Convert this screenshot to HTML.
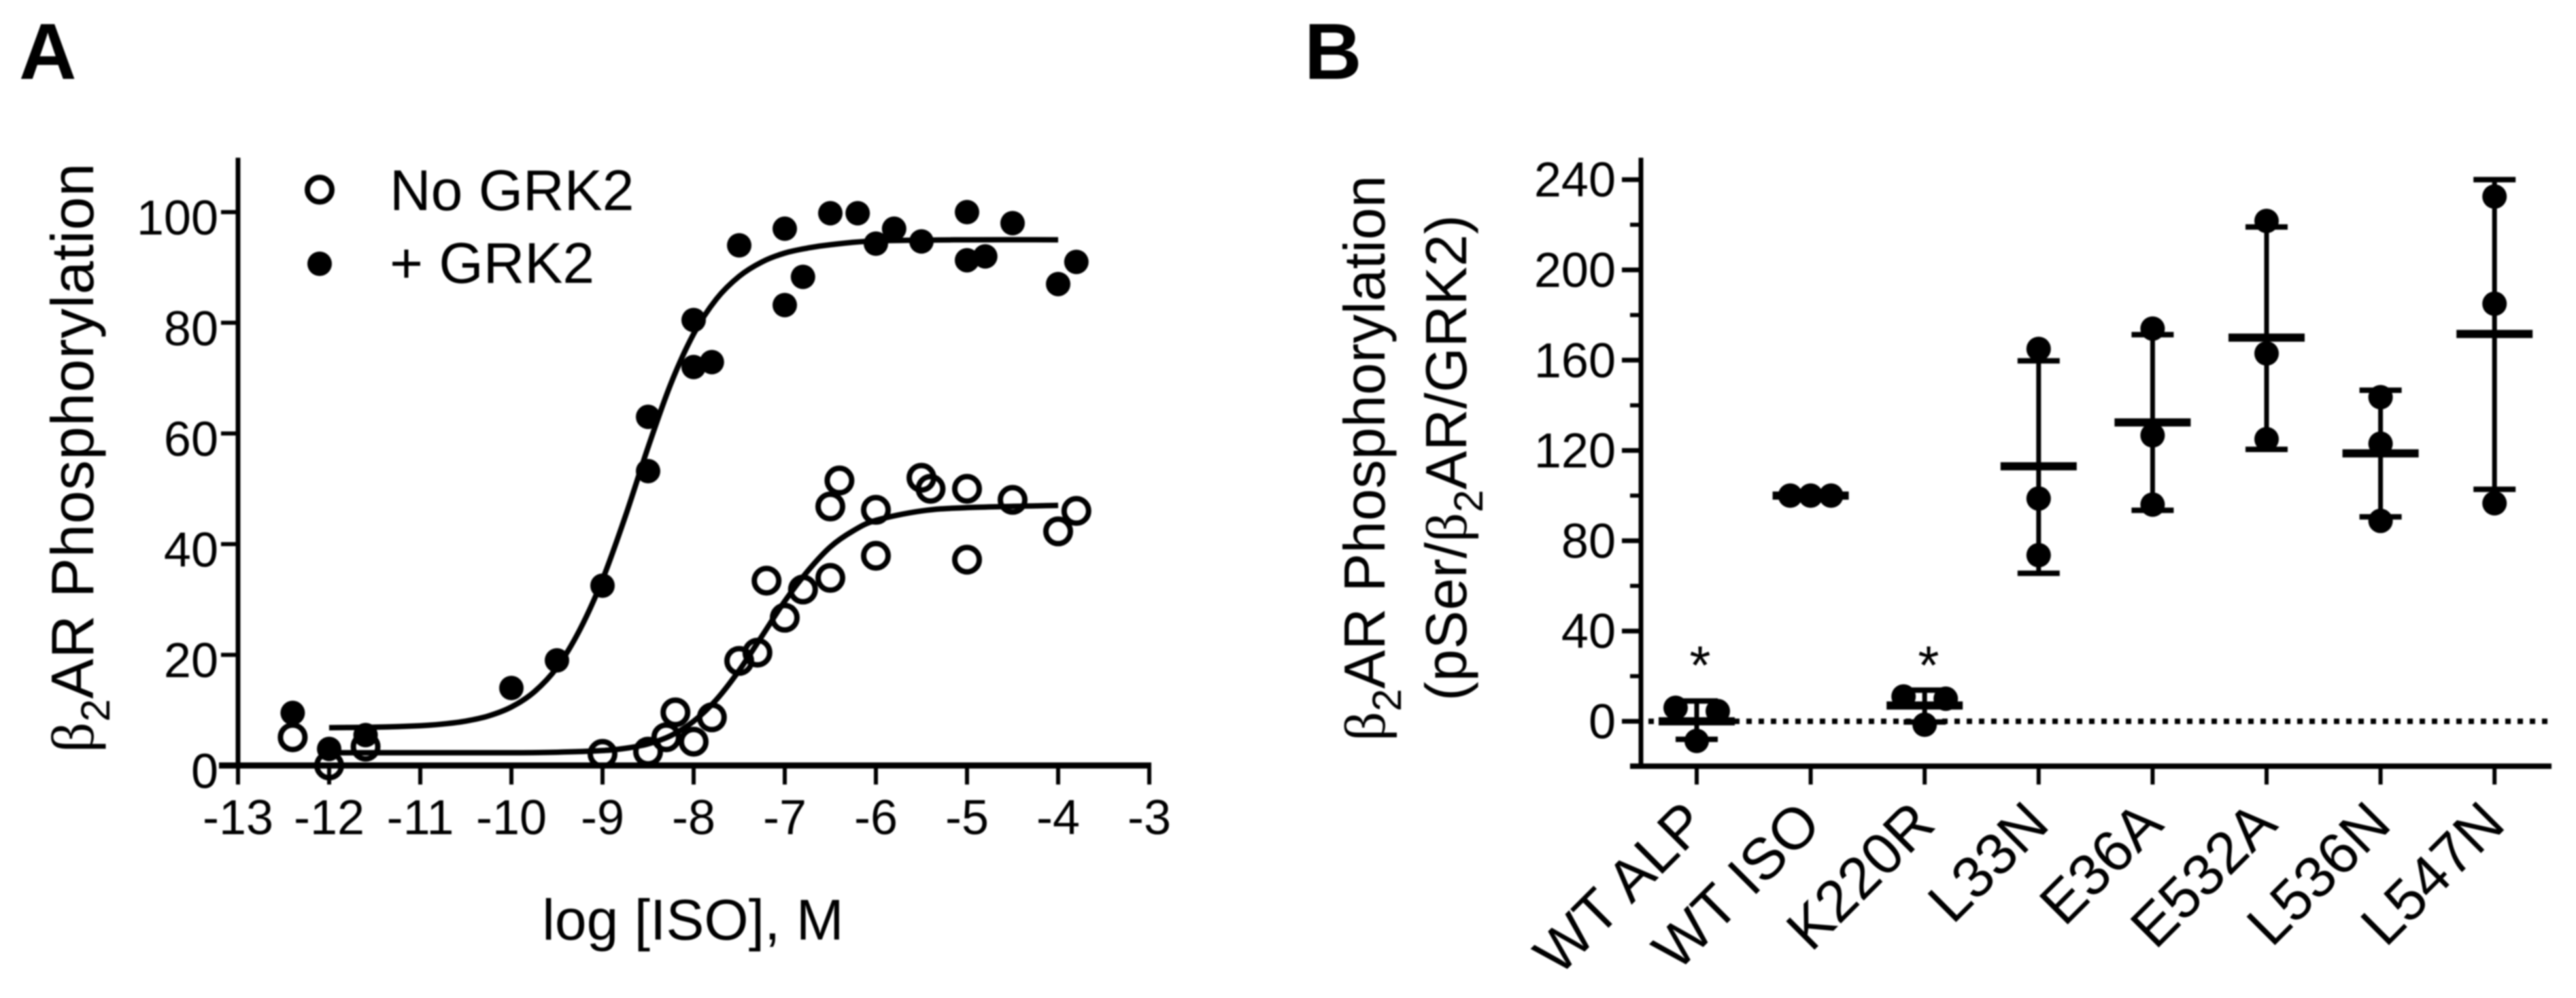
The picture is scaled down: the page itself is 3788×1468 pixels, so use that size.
<!DOCTYPE html>
<html>
<head>
<meta charset="utf-8">
<title>Beta2AR phosphorylation</title>
<style>
html,body{margin:0;padding:0;background:#fff;}
svg{display:block;filter:blur(1px);}
text{font-family:"Liberation Sans",sans-serif;fill:#000;}
.tick{font-size:72px;}
.title{font-size:84px;}
.xcat{font-size:86px;}
.beta{font-family:"Liberation Serif",serif;}
</style>
</head>
<body>
<svg id="chart" xmlns="http://www.w3.org/2000/svg" width="3788" height="1468" viewBox="0 0 3788 1468">
  <rect x="0" y="0" width="3788" height="1468" fill="#fff"/>
  <text x="28" y="116" font-size="117" font-weight="bold">A</text>
  <text x="1918" y="116" font-size="117" font-weight="bold">B</text>

  <g id="panelA"></g>
  <g id="panelB"></g>

  <text transform="translate(137,1107) rotate(-90)" font-size="88" textLength="867"><tspan class="beta">β</tspan><tspan font-size="60" dy="24">2</tspan><tspan dy="-24">AR Phosphorylation</tspan></text>
  <text x="1019" y="1382" text-anchor="middle" class="title">log [ISO], M</text>
  <text x="573" y="309" class="title">No GRK2</text>
  <text x="573" y="416" class="title">+ GRK2</text>

  <text transform="translate(2036,1090) rotate(-90)" font-size="85" textLength="832"><tspan class="beta">β</tspan><tspan font-size="60" dy="24">2</tspan><tspan dy="-24">AR Phosphorylation</tspan></text>
  <text transform="translate(2156,1031) rotate(-90)" font-size="85" textLength="715">(pSer/<tspan class="beta">β</tspan><tspan font-size="60" dy="24">2</tspan><tspan dy="-24">AR/GRK2)</tspan></text>

  <text x="2500" y="1006" text-anchor="middle" font-size="80">*</text>
  <text x="2836" y="1006" text-anchor="middle" font-size="80">*</text>
</svg>

<script>
// ---------- Panel A data ----------
const xTicksA = [-13,-12,-11,-10,-9,-8,-7,-6,-5,-4,-3];
const yTicksA = [0,20,40,60,80,100];

const grkLogIso = [-12.4,-12,-11.6,-10,-9.5,-9,-8.5,-8.5,-8,-8,-7.8,-7.5,-7,-7,-6.8,-6.5,-6.2,-6,-5.8,-5.5,-5,-5,-4.8,-4.5,-4,-3.8];
const grkValues = [9.5,3,5.5,14,19,32.5,63,53.2,80.5,72,72.9,94,97,83.2,88.3,99.8,99.8,94.3,97,94.7,100,91.3,92,98,87,91];

const noGrkLogIso = [-12.4,-12,-11.6,-9,-8.5,-8.3,-8.2,-8,-7.8,-7.5,-7.3,-7.2,-7,-6.8,-6.5,-6.5,-6.4,-6,-6,-5.5,-5.4,-5,-5,-4.5,-4,-3.8];
const noGrkValues = [5.1,0,3.4,2.1,2.5,5.1,9.6,4.3,8.7,18.9,20.4,33.4,26.7,31.8,33.9,46.8,51.5,37.9,46.2,52,50,37.2,50,48,42.3,46];

const grkCurveX = [-12,-11.5,-11,-10.75,-10.5,-10.25,-10,-9.75,-9.5,-9.25,-9,-8.75,-8.5,-8.25,-8,-7.75,-7.5,-7.25,-7,-6.75,-6.5,-6,-5,-4];
const grkCurveY = [6.84,6.92,7.19,7.5,8.03,8.96,10.57,13.29,17.7,24.5,33.6,45,57.5,69,78,84.3,88.4,91,92.6,93.5,94.1,94.8,95,95];

const noGrkCurveX = [-12,-11,-10,-9.5,-9,-8.75,-8.5,-8.25,-8,-7.75,-7.5,-7.25,-7,-6.75,-6.5,-6.25,-6,-5.5,-5,-4];
const noGrkCurveY = [2.3,2.3,2.3,2.4,2.7,3.1,3.9,5.4,8,11.9,17.2,23.4,29.7,35.1,39.5,42.4,44.3,46,46.6,47];

// ---------- Panel B data ----------
const groupNames = ["WT ALP","WT ISO","K220R","L33N","E36A","E532A","L536N","L547N"];
const yMajorTicksB = [0,40,80,120,160,200,240];
const yMinorTicksB = [20,60,100,140,180,220];
const groupMeans = [0,100,7,113,132.4,170,118.7,171.6];
const groupUpper = [9,100,13.8,159.7,171.3,219,146.7,240];
const groupLower = [-8,100,-0.3,65.6,93.5,120.5,90.6,102.8];
const groupPointsA = [6,100,11,165,174,221.7,143.6,232.5];
const groupPointsB = [-8.7,100,-1.5,98.7,126.7,163,123,185];
const groupPointsC = [4.5,100,10,73.6,96,125,88.8,96.6];

// ---------- Scales ----------
const NS = "http://www.w3.org/2000/svg";
const xA = v => 350 + (v + 13) * 134;
const yA = v => 1126 - v * 8.14;
const xB = i => 2495 + i * 167.6;
const yB = v => 1061 - v * 3.32;

function line(parent, x1, y1, x2, y2, w) {
  const el = document.createElementNS(NS, "line");
  el.setAttribute("x1", x1); el.setAttribute("y1", y1);
  el.setAttribute("x2", x2); el.setAttribute("y2", y2);
  el.setAttribute("stroke", "#000"); el.setAttribute("stroke-width", w);
  parent.appendChild(el);
  return el;
}
function dot(parent, cx, cy, open) {
  const el = document.createElementNS(NS, "circle");
  el.setAttribute("cx", cx); el.setAttribute("cy", cy);
  if (open) {
    el.setAttribute("r", 18);
    el.setAttribute("fill", "none");
    el.setAttribute("stroke", "#000");
    el.setAttribute("stroke-width", 8);
  } else {
    el.setAttribute("r", 18);
    el.setAttribute("fill", "#000");
  }
  parent.appendChild(el);
  return el;
}
function label(parent, x, y, str, anchor, cls) {
  const el = document.createElementNS(NS, "text");
  el.setAttribute("x", x); el.setAttribute("y", y);
  el.setAttribute("text-anchor", anchor);
  if (cls) el.setAttribute("class", cls);
  el.textContent = str;
  parent.appendChild(el);
  return el;
}
function curvePath(xs, ys, sx, sy) {
  const p = xs.map((x, i) => [sx(x), sy(ys[i])]);
  let d = "M" + p[0][0] + " " + p[0][1];
  for (let i = 0; i < p.length - 1; i++) {
    const a = p[Math.max(i - 1, 0)], b = p[i], c = p[i + 1], e = p[Math.min(i + 2, p.length - 1)];
    const c1x = b[0] + (c[0] - a[0]) / 6, c1y = b[1] + (c[1] - a[1]) / 6;
    const c2x = c[0] - (e[0] - b[0]) / 6, c2y = c[1] - (e[1] - b[1]) / 6;
    d += " C" + c1x + " " + c1y + " " + c2x + " " + c2y + " " + c[0] + " " + c[1];
  }
  return d;
}

// ---------- Panel A ----------
const A = document.getElementById("panelA");
const yAxisA = line(A, 350, 232, 350, 1130, 7);


const xAxisA = line(A, 322, yA(0), xA(-3) + 3, yA(0), 9);



xTicksA.forEach(t => {
  const tk = line(A, xA(t), yA(0), xA(t), 1154, 6);
  
  
  const lb = label(A, xA(t), 1227, String(t), "middle", "tick");
  
  
});
yTicksA.forEach(t => {
  const tk = line(A, 325, yA(t), 350, yA(t), 6);
  
  
  const lb = label(A, 321, yA(t) + 33, String(t), "end", "tick");
  
  
});

[[grkCurveX, grkCurveY, "fit-curve-plus-grk2"], [noGrkCurveX, noGrkCurveY, "fit-curve-no-grk2"]].forEach(c => {
  const path = document.createElementNS(NS, "path");
  path.setAttribute("d", curvePath(c[0], c[1], xA, yA));
  path.setAttribute("fill", "none");
  path.setAttribute("stroke", "#000");
  path.setAttribute("stroke-width", 8);
  
  
  A.appendChild(path);
});

noGrkLogIso.forEach((x, i) => {
  const m = dot(A, xA(x), yA(noGrkValues[i]), true);
  
  
});
grkLogIso.forEach((x, i) => {
  const m = dot(A, xA(x), yA(grkValues[i]), false);
  
  
});

const legendOpen = dot(A, 470, 279, true);


const legendFilled = dot(A, 470, 388, false);



// ---------- Panel B ----------
const B = document.getElementById("panelB");
const yAxisB = line(B, 2413, 232, 2413, 1130, 7);


const xAxisB = line(B, 2397, 1127, 3752, 1127, 8);



yMajorTicksB.forEach(t => {
  const tk = line(B, 2385, yB(t), 2413, yB(t), 7);
  
  
  const lb = label(B, 2376, yB(t) + 25, String(t), "end", "tick");
  
  
});
yMinorTicksB.forEach(t => {
  const tk = line(B, 2397, yB(t), 2413, yB(t), 6);
  
  
});

const zero = line(B, 2424, yB(0), 3748, yB(0), 8);
zero.setAttribute("stroke-dasharray", "8 10");



groupNames.forEach((name, i) => {
  const cx = xB(i);
  const tk = line(B, cx, 1127, cx, 1154, 6);
  
  

  const lb = document.createElementNS(NS, "text");
  lb.setAttribute("transform", "translate(" + (cx + 19) + ",1216) rotate(-45)");
  lb.setAttribute("text-anchor", "end");
  lb.setAttribute("class", "xcat");
  lb.textContent = name;
  
  
  B.appendChild(lb);

  const stem = line(B, cx, yB(groupUpper[i]), cx, yB(groupLower[i]), 7);
  
  
  const capU = line(B, cx - 31, yB(groupUpper[i]), cx + 31, yB(groupUpper[i]), 8);
  
  
  const capL = line(B, cx - 31, yB(groupLower[i]), cx + 31, yB(groupLower[i]), 8);
  
  
  const mean = line(B, cx - 56, yB(groupMeans[i]), cx + 56, yB(groupMeans[i]), 12);
  
  

  // points that sit at nearly the same height are spread sideways, as in the plot
  const vals = [groupPointsA[i], groupPointsB[i], groupPointsC[i]];
  vals.forEach((v, j) => {
    const spread = name === "WT ISO" ? [-30, 0, 30] : (name === "WT ALP" || name === "K220R") ? [-31, 0, 31] : [0, 0, 0];
    const m = dot(B, cx + spread[j], yB(v), false);
    
    
  });
});
</script>
</body>
</html>
